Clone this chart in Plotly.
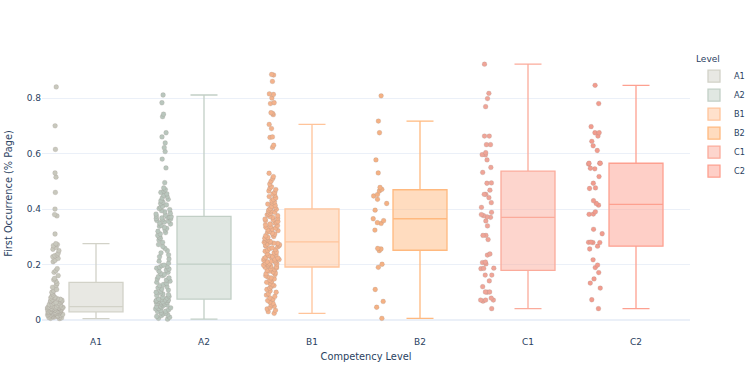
import plotly.graph_objects as go

# Competency levels and first-occurrence positions (% of page)
levels = ['A1', 'A2', 'B1', 'B2', 'C1', 'C2']

a1 = [0.005, 0.006, 0.008, 0.009, 0.01, 0.011, 0.012, 0.013, 0.014, 0.015,
      0.016, 0.017, 0.018, 0.018, 0.019, 0.02, 0.021, 0.022, 0.022, 0.023,
      0.024, 0.025, 0.025, 0.026, 0.027, 0.027, 0.028, 0.028, 0.029, 0.029,
      0.03, 0.031, 0.031, 0.032, 0.033, 0.033, 0.034, 0.035, 0.035, 0.036,
      0.037, 0.037, 0.038, 0.039, 0.039, 0.04, 0.041, 0.041, 0.042, 0.042,
      0.043, 0.044, 0.044, 0.045, 0.045, 0.046, 0.046, 0.047, 0.047, 0.048,
      0.049, 0.05, 0.052, 0.053, 0.055, 0.056, 0.058, 0.06, 0.061, 0.063,
      0.065, 0.067, 0.068, 0.07, 0.072, 0.074, 0.075, 0.077, 0.079, 0.08,
      0.082, 0.085, 0.09, 0.095, 0.1, 0.105, 0.11, 0.118, 0.125, 0.132,
      0.14, 0.145, 0.15, 0.16, 0.172, 0.178, 0.185, 0.21, 0.215, 0.222,
      0.228, 0.232, 0.235, 0.24, 0.25, 0.255, 0.262, 0.268, 0.272, 0.275,
      0.31, 0.375, 0.38, 0.4, 0.46, 0.515, 0.53, 0.615, 0.70, 0.84]

a2 = [0.003, 0.006, 0.01, 0.013, 0.016, 0.019, 0.022, 0.025, 0.027, 0.03,
      0.032, 0.035, 0.037, 0.04, 0.042, 0.044, 0.046, 0.048, 0.05, 0.052,
      0.054, 0.056, 0.058, 0.06, 0.061, 0.063, 0.064, 0.066, 0.067, 0.068,
      0.07, 0.071, 0.072, 0.073, 0.074,
      0.076, 0.079, 0.082, 0.085, 0.088, 0.091, 0.094, 0.097, 0.1, 0.104,
      0.108, 0.112, 0.116, 0.12, 0.124, 0.128, 0.132, 0.136, 0.14, 0.144,
      0.148, 0.152, 0.156, 0.16, 0.164, 0.168, 0.172, 0.176, 0.18, 0.184,
      0.187, 0.19, 0.193, 0.196, 0.198,
      0.205, 0.212, 0.22, 0.228, 0.235, 0.242, 0.25, 0.258, 0.265, 0.272,
      0.28, 0.288, 0.295, 0.3, 0.305, 0.31, 0.315, 0.32, 0.325, 0.33,
      0.334, 0.338, 0.342, 0.346, 0.35, 0.353, 0.356, 0.359, 0.362, 0.364,
      0.366, 0.368, 0.37, 0.371, 0.372,
      0.375, 0.378, 0.382, 0.385, 0.39, 0.394, 0.398, 0.402, 0.406, 0.41,
      0.415, 0.42, 0.425, 0.43, 0.435, 0.44, 0.445, 0.45, 0.455, 0.46,
      0.465, 0.47, 0.476, 0.495, 0.548, 0.58, 0.607, 0.621, 0.638, 0.66,
      0.675, 0.733, 0.742, 0.783, 0.811]

b1 = [0.024, 0.03, 0.035, 0.04, 0.045, 0.05, 0.055, 0.06, 0.065, 0.07,
      0.075, 0.08, 0.085, 0.09, 0.095, 0.1, 0.105, 0.11, 0.115, 0.12,
      0.124, 0.128, 0.132, 0.136, 0.14, 0.144, 0.148, 0.152, 0.156, 0.16,
      0.164, 0.167, 0.17, 0.173, 0.176, 0.179, 0.182, 0.185, 0.188, 0.19,
      0.192, 0.194, 0.196, 0.198, 0.2, 0.202, 0.204, 0.206, 0.208, 0.21,
      0.212, 0.214, 0.216, 0.218, 0.22, 0.222, 0.224, 0.226, 0.228, 0.23,
      0.233, 0.236, 0.239, 0.242, 0.245, 0.248, 0.251, 0.254, 0.257, 0.26,
      0.263, 0.266, 0.268, 0.27, 0.272, 0.274, 0.276, 0.277, 0.279, 0.28,
      0.283, 0.286, 0.289, 0.292, 0.295, 0.298, 0.301, 0.304, 0.307, 0.31,
      0.313, 0.316, 0.319, 0.322, 0.325, 0.328, 0.331, 0.334, 0.337, 0.34,
      0.343, 0.346, 0.349, 0.352, 0.355, 0.358, 0.361, 0.364, 0.367, 0.37,
      0.373, 0.376, 0.379, 0.382, 0.385, 0.388, 0.391, 0.394, 0.397, 0.399,
      0.402, 0.406, 0.41, 0.414, 0.418, 0.422, 0.426, 0.43, 0.435, 0.44,
      0.445, 0.45, 0.455, 0.46, 0.465, 0.47, 0.475, 0.48, 0.49, 0.5,
      0.51, 0.517, 0.529, 0.622, 0.63, 0.658, 0.66, 0.69, 0.705, 0.74,
      0.745, 0.747, 0.78, 0.783, 0.80, 0.813, 0.815, 0.86, 0.883, 0.885]

b2 = [0.808, 0.717, 0.675, 0.577, 0.530, 0.478, 0.471, 0.465, 0.452, 0.447,
      0.435, 0.420, 0.396, 0.365, 0.358, 0.351, 0.348, 0.324, 0.258, 0.256,
      0.250, 0.201, 0.190, 0.110, 0.067, 0.046, 0.006]

c1 = [0.922, 0.817, 0.798, 0.769, 0.663, 0.663, 0.632, 0.632, 0.603, 0.596,
      0.595, 0.577, 0.550, 0.532, 0.494, 0.493, 0.468, 0.453, 0.453, 0.441,
      0.423, 0.406, 0.388, 0.38, 0.376, 0.372, 0.370, 0.357, 0.339, 0.305,
      0.305, 0.290, 0.238, 0.234, 0.209, 0.207, 0.202, 0.187, 0.186, 0.185,
      0.162, 0.162, 0.141, 0.120, 0.101, 0.101, 0.100, 0.079, 0.072, 0.072,
      0.072, 0.068, 0.041]

c2 = [0.846, 0.780, 0.697, 0.675, 0.675, 0.663, 0.644, 0.628, 0.611, 0.565,
      0.565, 0.565, 0.562, 0.547, 0.545, 0.517, 0.493, 0.476, 0.474, 0.430,
      0.42, 0.414, 0.390, 0.382, 0.381, 0.327, 0.311, 0.281, 0.280, 0.279,
      0.279, 0.266, 0.256, 0.217, 0.198, 0.189, 0.171, 0.148, 0.133, 0.115,
      0.073, 0.041]

values = [a1, a2, b1, b2, c1, c2]

line_colors = ['#d2d2c8', '#c2cfc6', '#ffc49a', '#ffb97f', '#fbab9b', '#fda090']
point_colors = ['#c8c8bd', '#b9c6bd', '#f3b38d', '#f4b184', '#efa598', '#f19c8e']

fig = go.Figure()
for lvl, vals, lc, pc in zip(levels, values, line_colors, point_colors):
    fig.add_trace(go.Box(
        x=[lvl] * len(vals),
        y=vals,
        name=lvl,
        boxpoints='all',
        jitter=0.3,
        pointpos=-1.5,
        width=0.5,
        whiskerwidth=0.5,
        line=dict(color=lc, width=1.3),
        marker=dict(color=pc, size=4.8, line=dict(color='rgba(140,130,120,0.35)', width=0.5)),
    ))

fig.update_layout(
    template='plotly_white',
    width=748,
    height=374,
    margin=dict(l=42, r=58, t=52, b=39),
    font=dict(family='DejaVu Sans, Verdana, sans-serif', size=9, color='#2a3f5f'),
    boxmode='overlay',
    legend=dict(title=dict(text='Level', font=dict(size=9)), font=dict(size=8.2),
                xref='container', yref='container', x=694 / 748, y=1 - 50 / 374,
                xanchor='left', yanchor='top', tracegroupgap=0),
    xaxis=dict(title=dict(text='Competency Level', font=dict(size=9.8), standoff=7),
               categoryorder='array', categoryarray=levels, range=[-0.5, 5.5],
               automargin=False),
    yaxis=dict(title=dict(text='First Occurrence (% Page)', font=dict(size=9.8), standoff=12),
               range=[-0.054, 0.966], dtick=0.2, automargin=False),
)

# drop the default body margin so the figure sits at the page's top-left corner
fig.write_html("out.html", config={'displayModeBar': False},
               post_script="document.body.style.margin = '0';")
